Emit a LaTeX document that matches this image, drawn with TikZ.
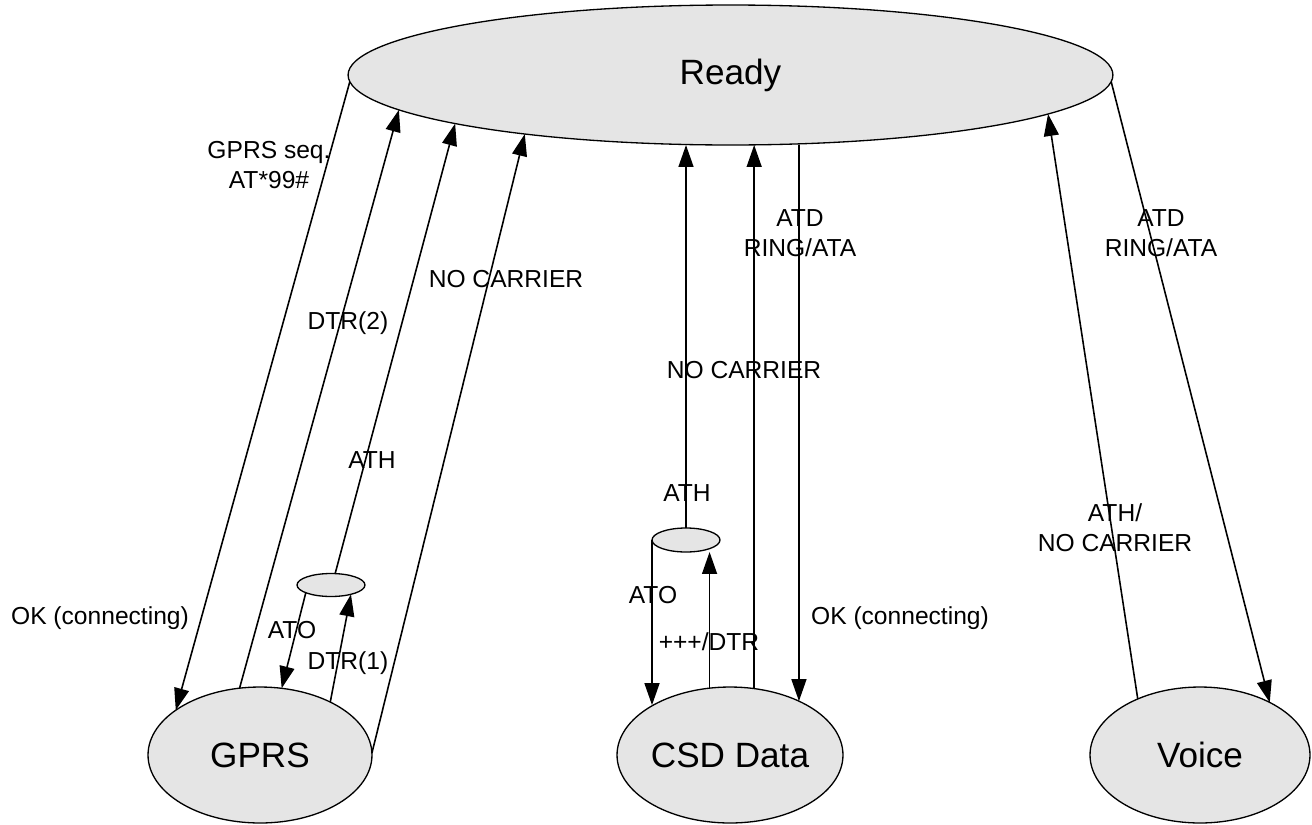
\documentclass[tikz,border=0pt]{standalone}
\usepackage{fontspec}
\setmainfont{Liberation Sans}
\usetikzlibrary{shapes.geometric,arrows.meta}
\tikzset{
  state/.style={ellipse, draw, line width=0.75pt, fill=gray!20, inner sep=0pt, outer sep=0pt,
    font=\fontsize{20}{24}\selectfont},
  substate/.style={ellipse, draw, line width=0.75pt, fill=gray!20, inner sep=0pt, outer sep=0pt},
  lbl/.style={inner sep=0pt, align=center, font=\fontsize{14}{17}\selectfont},
  arr/.style={line width=0.9pt, -{Triangle[length=12.5pt,width=8.5pt]}},
}
\begin{document}
\begin{tikzpicture}[x=0.02cm, y=-0.02cm]
\useasboundingbox (0,0) rectangle (1312,825);
% states
\node[state, minimum width=15.3cm, minimum height=2.8cm] (ready) at (730.5,75) {Ready};
\node[state, minimum width=4.48cm, minimum height=2.72cm] (gprs) at (260,755) {GPRS};
\node[state, minimum width=4.52cm, minimum height=2.72cm] (csd) at (730,755) {CSD Data};
\node[state, minimum width=4.4cm, minimum height=2.72cm] (voice) at (1200,755) {Voice};
\node[substate, minimum width=1.36cm, minimum height=0.46cm] (smallgprs) at (331,585) {};
\node[substate, minimum width=1.36cm, minimum height=0.48cm] (smallcsd) at (686,540) {};
% labels
\node[lbl] (lgprsseq) at (269,165) {GPRS seq.\\AT*99\#};
\node[lbl] (lokleft) at (100,618) {OK (connecting)};
\node[lbl] (ldtr2) at (348,323) {DTR(2)};
\node[lbl] (lnocarrier1) at (506,279) {NO CARRIER};
\node[lbl] (lath1) at (372,460) {ATH};
\node[lbl] (lato1) at (292,630) {ATO};
\node[lbl] (ldtr1) at (348,663) {DTR(1)};
\node[lbl] (lath2) at (687,493) {ATH};
\node[lbl] (lato2) at (653,595) {ATO};
\node[lbl] (lplus) at (709,642) {+++/DTR};
\node[lbl] (lokright) at (900,618) {OK (connecting)};
\node[lbl] (lnocarrier2) at (744,370) {NO CARRIER};
\node[lbl] (latd1) at (800,233) {ATD\\RING/ATA};
\node[lbl] (latd2) at (1161,233) {ATD\\RING/ATA};
\node[lbl] (lath3) at (1115,528) {ATH/\\NO CARRIER};
% GPRS connectors
\draw[arr] (ready.181) -- (gprs.152);
\draw[arr] (gprs.107.9) -- (ready.186.05);
\draw[arr] (smallgprs.70) -- (ready.190.5);
\draw[arr] (gprs.1) -- (ready.196.7);
\draw[arr] (smallgprs.197) -- (gprs.72.1);
\draw[arr] (gprs.37.5) -- (smallgprs.335);
% CSD connectors
\draw[arr] (smallcsd.north) -- (smallcsd.north |- ready.south);
\draw[arr] (csd.70.9) -- (csd.70.9 |- ready.south);
\draw[arr] (csd.38.6 |- ready.south) -- (csd.38.6);
\draw[arr] (smallcsd.west) -- (smallcsd.west |- csd.147.1);
\draw[arr] (csd.107) -- (csd.107 |- smallcsd.south);
% Voice connectors
\draw[arr] (voice.138.9) -- (ready.353.3);
\draw[arr] (ready.359.5) -- (voice.37.8);
\end{tikzpicture}
\end{document}
